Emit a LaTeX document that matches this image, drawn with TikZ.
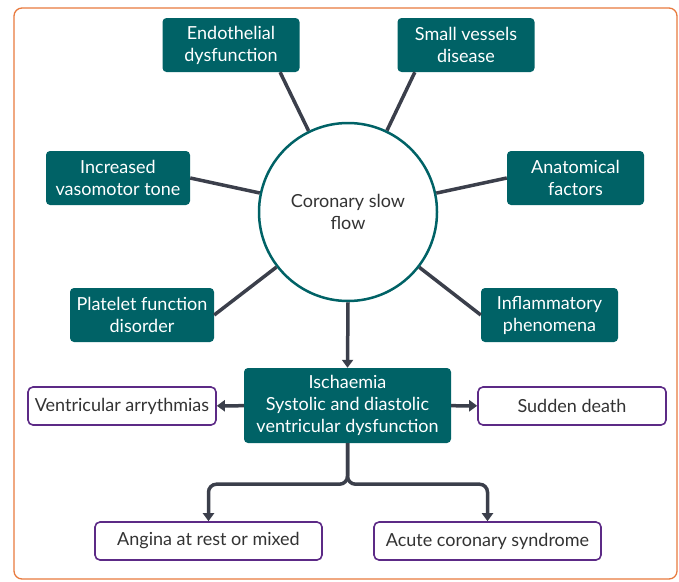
\documentclass[tikz,border=0pt]{standalone}
\usepackage{fontspec}
\setmainfont{Lato}
\usetikzlibrary{arrows.meta}
\definecolor{cfteal}{RGB}{0,98,102}
\definecolor{cfpurple}{RGB}{92,42,134}
\definecolor{cfline}{RGB}{59,63,75}
\definecolor{cforange}{RGB}{232,122,62}
\definecolor{cftext}{RGB}{51,51,51}
\begin{document}
\begin{tikzpicture}[x=1pt,y=-1pt,
  font=\fontsize{18}{22}\selectfont,
  cause/.style={fill=cfteal, text=white, rounded corners=4pt, minimum width=137pt, minimum height=54pt, inner sep=0pt, align=center},
  outcome/.style={draw=cfpurple, line width=1.6pt, fill=white, text=cftext, rounded corners=5pt, minimum width=188pt, minimum height=38pt, inner sep=0pt},
  spoke/.style={draw=cfline, line width=3.5pt},
  arrow/.style={draw=cfline, line width=3.5pt, -{Triangle[width=11pt,length=8pt]}}]
\useasboundingbox (0,0) rectangle (679,581);
\draw[cforange, line width=1.3pt, rounded corners=8pt] (14,8) rectangle (677,579);

\node[draw=cfteal, line width=2.5pt, circle, minimum size=178pt, fill=white, text=cftext, align=center] (flow) at (348,212) {Coronary slow\\flow};

\node[cause] (endo) at (231,45) {Endothelial\\dysfunction};
\node[cause] (small) at (466,45) {Small vessels\\disease};
\node[cause, minimum width=144pt] (vaso) at (118,178) {Increased\\vasomotor tone};
\node[cause] (anat) at (575.5,178) {Anatomical\\factors};
\node[cause, minimum width=144pt] (plat) at (142,315) {Platelet function\\disorder};
\node[cause] (infl) at (549.5,315) {Inflammatory\\phenomena};

\node[cause, minimum width=207pt, minimum height=75pt] (isch) at (347.5,405.5) {Ischaemia\\Systolic and diastolic\\ventricular dysfunction};

\node[outcome] (arry) at (122,406) {Ventricular arrythmias};
\node[outcome] (death) at (572,406) {Sudden death};
\node[outcome, minimum width=227pt] (angina) at (208.5,541) {Angina at rest or mixed};
\node[outcome, minimum width=227pt] (acs) at (487.5,541) {Acute coronary syndrome};

\path[spoke] (flow) -- (endo.331);
\path[spoke] (flow) -- (small.208);
\path[spoke] (flow) -- (vaso.east);
\path[spoke] (flow) -- (anat.west);
\path[spoke] (flow) -- (plat.east);
\path[spoke] (flow) -- (infl.west);

\path[arrow] (flow.south) -- (isch.north);
\path[arrow] (isch) -- (arry);
\path[arrow] (isch) -- (death);
\path[arrow, rounded corners=8pt] (isch.south) -- ++(0,41) -| (angina.north);
\path[arrow, rounded corners=8pt] (isch.south) -- ++(0,41) -| (acs.north);
\end{tikzpicture}
\end{document}
